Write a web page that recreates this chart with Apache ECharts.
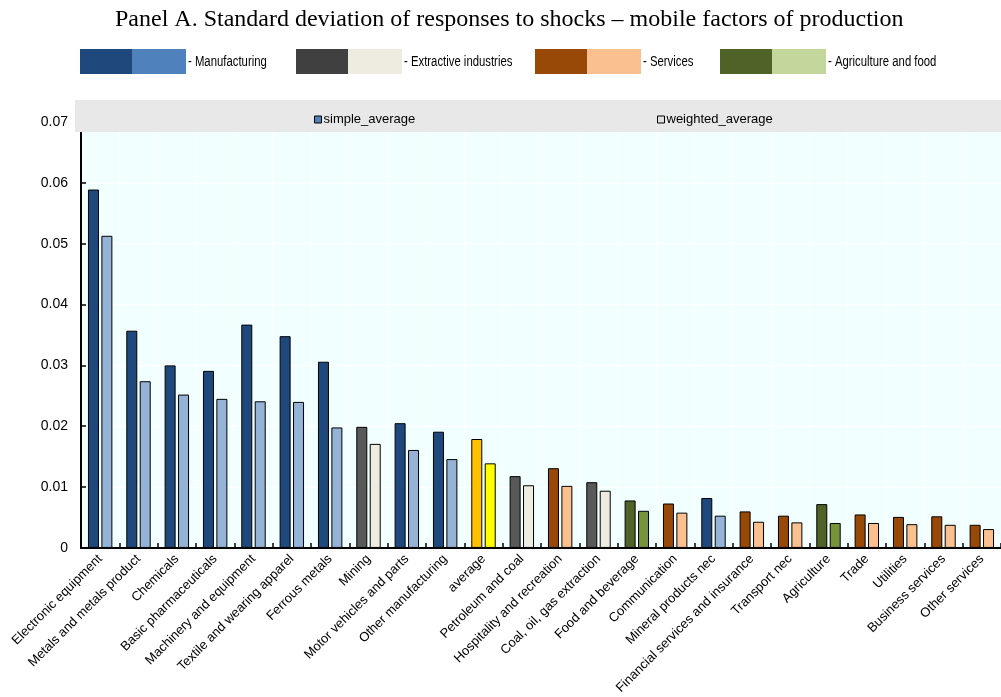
<!DOCTYPE html>
<html>
<head>
    <meta charset="UTF-8">
    <title>Panel A</title>
    <style>
        html, body { margin: 0; padding: 0; width: 100%; height: 100%; overflow: hidden; background: #fff; }
        #main { width: 1001px; height: 697px; }
    </style>
    <script src="https://cdn.jsdelivr.net/npm/echarts@6/dist/echarts.min.js"></script>
</head>
<body>
    <div id="main"></div>
    <script>
        // sector names, in the order of the chart
        const categories = [
            'Electronic equipment', 'Metals and metals product', 'Chemicals', 'Basic pharmaceuticals',
            'Machinery and equipment', 'Textile and wearing apparel', 'Ferrous metals', 'Mining',
            'Motor vehicles and parts', 'Other manufacturing', 'average', 'Petroleum and coal',
            'Hospitality and recreation', 'Coal, oil, gas extraction', 'Food and beverage', 'Communication',
            'Mineral products nec', 'Financial services and insurance', 'Transport nec', 'Agriculture',
            'Trade', 'Utilities', 'Business services', 'Other services'
        ];
        // group of each sector: M manufacturing, E extractive, S services, G agriculture/food, A average
        const groups = ['M', 'M', 'M', 'M', 'M', 'M', 'M', 'E', 'M', 'M', 'A', 'E',
                        'S', 'E', 'G', 'S', 'M', 'S', 'S', 'G', 'S', 'S', 'S', 'S'];
        const simpleAverage = [
            0.0589, 0.0357, 0.0300, 0.0291, 0.0367, 0.0348, 0.0306, 0.0199,
            0.0205, 0.0191, 0.0179, 0.0118, 0.0131, 0.0108, 0.0078, 0.0073,
            0.0082, 0.0060, 0.0053, 0.0072, 0.0055, 0.0051, 0.0052, 0.0038
        ];
        const weightedAverage = [
            0.0513, 0.0274, 0.0252, 0.0245, 0.0241, 0.0240, 0.0198, 0.0171,
            0.0161, 0.0146, 0.0139, 0.0103, 0.0102, 0.0094, 0.0061, 0.0058,
            0.0053, 0.0043, 0.0042, 0.0041, 0.0041, 0.0039, 0.0038, 0.0031
        ];
        const yTicks = [0, 0.01, 0.02, 0.03, 0.04, 0.05, 0.06, 0.07];

        const barColors = {
            M: ['#1F497D', '#95B3D7'],
            E: ['#595959', '#EEECE1'],
            S: ['#984807', '#FAC090'],
            G: ['#4F6228', '#77933C'],
            A: ['#FFC000', '#FFFF00']
        };
        const groupLegend = [
            { name: '- Manufacturing', colors: ['#1F497D', '#4F81BD'], x: 80 },
            { name: '- Extractive industries', colors: ['#404040', '#EEECE1'], x: 296 },
            { name: '- Services', colors: ['#984807', '#FAC090'], x: 535 },
            { name: '- Agriculture and food', colors: ['#4F6228', '#C3D69B'], x: 720 }
        ];

        function coloured(values, idx) {
            return values.map((v, i) => ({
                value: v,
                itemStyle: { color: barColors[groups[i]][idx] }
            }));
        }

        const graphics = [];
        groupLegend.forEach(g => {
            graphics.push({ type: 'rect', left: g.x, top: 49, shape: { width: 52, height: 25 }, style: { fill: g.colors[0] } });
            graphics.push({ type: 'rect', left: g.x + 52, top: 49, shape: { width: 54, height: 25 }, style: { fill: g.colors[1] } });
            // narrow lettering, like Arial Narrow
            graphics.push({
                type: 'text', x: g.x + 108, y: 55, scaleX: 0.81,
                style: { text: g.name, fill: '#000', font: '14px "Liberation Sans", Arial, sans-serif' }
            });
        });
        // grey band behind the series legend
        graphics.push({ type: 'rect', left: 75, top: 100, z: 100, shape: { width: 926, height: 32 }, style: { fill: '#E8E8E8' } });

        const chart = echarts.init(document.getElementById('main'));
        chart.setOption({
            animation: false,
            title: {
                text: 'Panel A. Standard deviation of responses to shocks \u2013 mobile factors of production',
                left: 110, top: 3,
                textStyle: { fontFamily: 'Liberation Serif', fontSize: 24, fontWeight: 'normal', color: '#000' }
            },
            graphic: graphics,
            legend: [
                {
                    data: [{ name: 'simple_average', itemStyle: { color: '#4F81BD', borderColor: '#000', borderWidth: 1 } }],
                    left: 309, top: 108, z: 200, icon: 'rect', itemWidth: 7, itemHeight: 7, itemGap: 2,
                    textStyle: { fontFamily: 'Liberation Sans', fontSize: 13, color: '#000', padding: [0, 0, 0, -3] }
                },
                {
                    data: [{ name: 'weighted_average', itemStyle: { color: '#E0E0E0', borderColor: '#000', borderWidth: 1 } }],
                    left: 652, top: 108, z: 200, icon: 'rect', itemWidth: 7, itemHeight: 7,
                    textStyle: { fontFamily: 'Liberation Sans', fontSize: 13, color: '#000', padding: [0, 0, 0, -3] }
                }
            ],
            grid: {
                left: 81, right: 0, top: 122, bottom: 149,
                show: true, backgroundColor: '#F2FFFF', borderWidth: 0
            },
            xAxis: {
                type: 'category',
                data: categories,
                axisLine: { lineStyle: { color: '#000', width: 2 } },
                axisTick: { show: true, inside: true, length: 5, lineStyle: { color: '#000', width: 1.5 } },
                splitLine: { show: true, lineStyle: { color: '#FFFFFF', width: 1 } },
                axisLabel: {
                    rotate: 45, interval: 0, margin: 9,
                    fontFamily: 'Liberation Sans', fontSize: 13, color: '#000'
                }
            },
            yAxis: {
                type: 'value',
                min: yTicks[0], max: yTicks[yTicks.length - 1], interval: 0.01,
                axisLine: { show: true, lineStyle: { color: '#000', width: 2 } },
                axisTick: { show: true, inside: true, length: 5, lineStyle: { color: '#000', width: 1.5 } },
                splitLine: { show: true, lineStyle: { color: '#FFFFFF', width: 1 } },
                axisLabel: {
                    margin: 13, fontFamily: 'Liberation Sans', fontSize: 14, color: '#000',
                    formatter: v => (v === 0 ? '0' : v.toFixed(2))
                }
            },
            series: [
                {
                    name: 'simple_average', type: 'bar',
                    data: coloured(simpleAverage, 0),
                    barWidth: 11, barGap: '22%',
                    itemStyle: { borderColor: '#000', borderWidth: 1 }
                },
                {
                    name: 'weighted_average', type: 'bar',
                    data: coloured(weightedAverage, 1),
                    barWidth: 11, barGap: '22%',
                    itemStyle: { borderColor: '#000', borderWidth: 1 }
                }
            ]
        });
    </script>
</body>
</html>
